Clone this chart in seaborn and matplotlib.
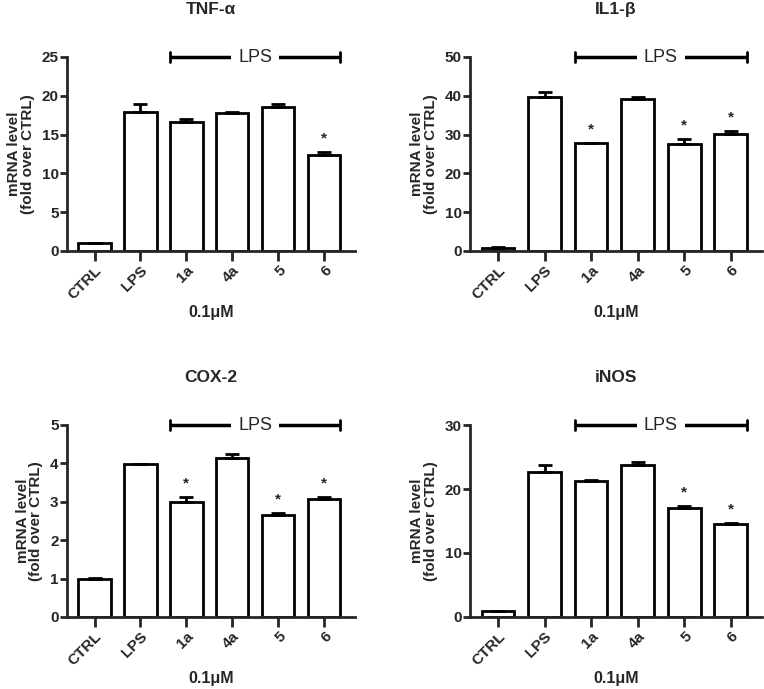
import matplotlib
matplotlib.use("Agg")
import matplotlib.pyplot as plt
import seaborn as sns
import numpy as np
import pandas as pd

sns.set_theme(style="ticks")
plt.rcParams['font.family'] = ['Liberation Sans', 'DejaVu Sans']

categories = ["CTRL", "LPS", "1a", "4a", "5", "6"]

tnf_vals = [1.0, 17.9, 16.6, 17.8, 18.6, 12.4]
tnf_err = [0.05, 1.0, 0.35, 0.15, 0.35, 0.3]
tnf_sig = [False, False, False, False, False, True]

il1_vals = [0.9, 39.7, 27.8, 39.3, 27.6, 30.1]
il1_err = [0.1, 1.3, 0.1, 0.5, 1.2, 0.7]
il1_sig = [False, False, True, False, True, True]

cox_vals = [1.0, 3.99, 3.0, 4.14, 2.65, 3.08]
cox_err = [0.02, 0.0, 0.12, 0.1, 0.07, 0.05]
cox_sig = [False, False, True, False, True, True]

inos_vals = [0.9, 22.6, 21.2, 23.8, 17.1, 14.6]
inos_err = [0.05, 1.2, 0.2, 0.4, 0.3, 0.1]
inos_sig = [False, False, False, False, True, True]

titles = ["TNF-α", "IL1-β", "COX-2", "iNOS"]
ymaxes = [25, 50, 5, 30]
ysteps = [5, 10, 1, 10]

panels = [
    (tnf_vals, tnf_err, tnf_sig),
    (il1_vals, il1_err, il1_sig),
    (cox_vals, cox_err, cox_sig),
    (inos_vals, inos_err, inos_sig),
]

W, H = 764, 689
fig = plt.figure(figsize=(W / 100, H / 100), dpi=100)

boxes = [
    (67, 57, 355, 251),
    (470, 57, 762, 251),
    (67, 425, 355, 617),
    (470, 425, 762, 617),
]

LW = 2.0
for (vals, err, sig), title, ymax, ystep, (x0, y0, x1, y1) in zip(panels, titles, ymaxes, ysteps, boxes):
    ax = fig.add_axes([x0 / W, 1 - y1 / H, (x1 - x0) / W, (y1 - y0) / H])
    df = pd.DataFrame({"cat": categories, "val": vals})
    sns.barplot(data=df, x="cat", y="val", ax=ax, color="white",
                edgecolor="black", linewidth=LW, width=0.7, errorbar=None,
                saturation=1)
    xs = np.arange(len(categories))
    ax.errorbar(xs, vals, yerr=[np.zeros(len(err)), err], fmt="none",
                ecolor="black", elinewidth=LW, capsize=5, capthick=LW, zorder=3)
    for i, (v, e, s) in enumerate(zip(vals, err, sig)):
        if s:
            ax.text(i, v + e + 0.07 * ymax, "*", ha="center", va="center",
                    fontsize=11, fontweight="bold")
    ax.set_xlim(-0.6, 5.67)
    ax.set_ylim(0, ymax)
    ax.set_yticks(np.arange(0, ymax + ystep / 2, ystep))
    for sp in ["top", "right"]:
        ax.spines[sp].set_visible(False)
    for sp in ["left", "bottom"]:
        ax.spines[sp].set_linewidth(LW)
    ax.tick_params(axis="y", width=LW, length=5, labelsize=11, pad=1)
    ax.tick_params(axis="x", width=LW, length=7, labelsize=11, pad=2)
    for lbl in ax.get_yticklabels():
        lbl.set_fontweight("bold")
    ax.set_xticks(xs)
    ax.set_xticklabels(categories, rotation=45, ha="right",
                       rotation_mode="anchor", fontweight="bold")
    ax.set_xlabel("0.1μM", fontsize=11.5, fontweight="bold", labelpad=2)
    ax.set_ylabel("mRNA level\n(fold over CTRL)", fontsize=11,
                  fontweight="bold", labelpad=5, linespacing=0.95)
    ax.set_title(title, fontsize=12.5, fontweight="bold", pad=31)
    # LPS bracket
    yb = ymax
    ax.plot([1.65, 5.35], [yb, yb], color="black", lw=LW + 0.5, clip_on=False,
            solid_capstyle="butt")
    ax.plot([1.65, 1.65], [yb - 0.028 * ymax, yb + 0.028 * ymax],
            color="black", lw=LW, clip_on=False)
    ax.plot([5.35, 5.35], [yb - 0.028 * ymax, yb + 0.028 * ymax],
            color="black", lw=LW, clip_on=False)
    ax.text(3.5, yb, "LPS", ha="center", va="center", fontsize=13,
            bbox=dict(facecolor="white", edgecolor="none", pad=5),
            clip_on=False, zorder=5)

fig.savefig("out.png", dpi=100)
